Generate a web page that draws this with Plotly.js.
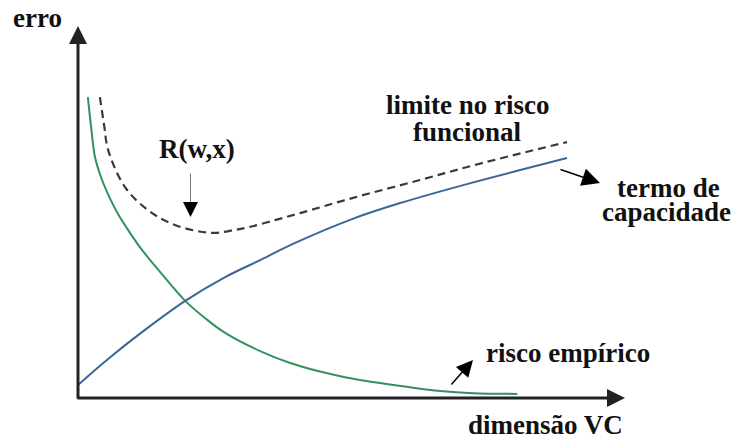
<!DOCTYPE html>
<html>
<head>
<meta charset="utf-8">
<script src="https://cdn.plot.ly/plotly-3.0.1.min.js"></script>
<style>
  html, body { margin: 0; padding: 0; background: #ffffff; }
  #chart { width: 735px; height: 439px; }
</style>
</head>
<body>
<div id="chart"></div>
<script>
// Empirical risk: falls steeply as the VC dimension grows
const empiricalX = [0.18, 0.24, 0.31, 0.42, 0.53, 0.73, 0.95, 1.17, 1.50, 1.96, 2.32, 2.69, 3.36, 3.88, 4.37, 4.88, 5.39, 6.01, 6.62, 7.22, 8.03];
const empiricalY = [8.09, 7.28, 6.48, 5.94, 5.54, 4.95, 4.44, 3.98, 3.39, 2.61, 2.15, 1.75, 1.24, 0.94, 0.73, 0.56, 0.43, 0.30, 0.19, 0.13, 0.11];

// Capacity (confidence) term: rises with the VC dimension
const capacityX = [0.00, 0.55, 1.17, 1.96, 2.69, 3.29, 3.97, 5.01, 5.89, 7.11, 8.94];
const capacityY = [0.35, 1.05, 1.77, 2.61, 3.25, 3.68, 4.17, 4.81, 5.24, 5.75, 6.45];

// Bound on the functional risk (sum of both terms)
const boundX = [0.40, 0.48, 0.55, 0.86, 1.28, 1.77, 2.45, 2.87, 3.14, 3.60, 4.06, 5.03, 6.25, 7.40, 8.94];
const boundY = [8.09, 7.31, 6.67, 5.67, 5.05, 4.65, 4.44, 4.52, 4.60, 4.78, 4.97, 5.38, 5.86, 6.32, 6.88];

// Text labels
const axisLabelY = 'erro';
const axisLabelX = 'dimensão VC';
const labelMinimum = 'R(w,x)';
const labelBound = ['limite no risco', 'funcional'];
const labelCapacity = ['termo de', 'capacidade'];
const labelEmpirical = 'risco empírico';

// Plot-area geometry (pixels) and helpers to place layout items in paper units
const M = { l: 78, r: 110, t: 26, b: 41 };
const W = 735 - M.l - M.r;
const H = 439 - M.t - M.b;
const px = v => (v - M.l) / W;
const py = v => (439 - M.b - v) / H;

const INK = '#222222';

function label(text, cx, cy) {
  return { text: text, xref: 'paper', yref: 'paper', x: px(cx), y: py(cy),
           xanchor: 'center', yanchor: 'middle', showarrow: false,
           font: { family: 'Liberation Serif', size: 27, color: '#111111', weight: 'bold' } };
}
function arrow(tipX, tipY, tailX, tailY, opts) {
  return Object.assign({
    text: '', xref: 'paper', yref: 'paper', x: px(tipX), y: py(tipY),
    axref: 'pixel', ayref: 'pixel', ax: tailX - tipX, ay: tailY - tipY,
    showarrow: true, arrowhead: 2, arrowcolor: '#000000', arrowwidth: 1.5, arrowsize: 2.2,
    standoff: 0, startstandoff: 0
  }, opts || {});
}

const traces = [
  { x: empiricalX, y: empiricalY, name: labelEmpirical, mode: 'lines',
    line: { color: '#35905f', width: 2, shape: 'spline', smoothing: 1 }, hoverinfo: 'skip' },
  { x: capacityX, y: capacityY, name: labelCapacity.join(' '), mode: 'lines',
    line: { color: '#3a6796', width: 2, shape: 'spline', smoothing: 1 }, hoverinfo: 'skip' },
  { x: boundX, y: boundY, name: labelBound.join(' '), mode: 'lines',
    line: { color: '#3a3a3a', width: 2.2, dash: '8px,5px', shape: 'spline', smoothing: 1 }, hoverinfo: 'skip' }
];

const annotations = [
  // axes drawn as arrows
  arrow(625, 398, 76, 398, { arrowcolor: INK, arrowwidth: 3, arrowsize: 1.2 }),
  arrow(78, 26, 78, 400, { arrowcolor: INK, arrowwidth: 3, arrowsize: 1.2 }),
  // pointer to the minimum of the bound: thin grey shaft, solid black head
  arrow(190.5, 204, 190.5, 172, { arrowhead: 0, arrowcolor: '#777777', arrowwidth: 1 }),
  arrow(190.5, 217, 190.5, 202, { arrowwidth: 1, arrowsize: 3 }),
  // pointers to the capacity term and the empirical risk
  arrow(600, 183, 559, 169, { arrowsize: 2.4 }),
  arrow(473, 360, 450, 386, { arrowsize: 2.2 }),
  // text
  label(axisLabelY, 37, 18),
  label(axisLabelX, 545, 425),
  label(labelMinimum, 197, 149),
  label(labelBound[0], 467, 105),
  label(labelBound[1], 467, 132),
  label(labelCapacity[0], 668, 188),
  label(labelCapacity[1], 666, 212),
  label(labelEmpirical, 568, 353)
];

const layout = {
  width: 735, height: 439,
  margin: M,
  font: { family: 'Liberation Serif' },
  paper_bgcolor: '#ffffff', plot_bgcolor: '#ffffff',
  showlegend: false,
  xaxis: { range: [0, 10], visible: false, fixedrange: true },
  yaxis: { range: [0, 10], visible: false, fixedrange: true },
  annotations: annotations
};

Plotly.newPlot('chart', traces, layout, { staticPlot: true, displayModeBar: false });
</script>
</body>
</html>
